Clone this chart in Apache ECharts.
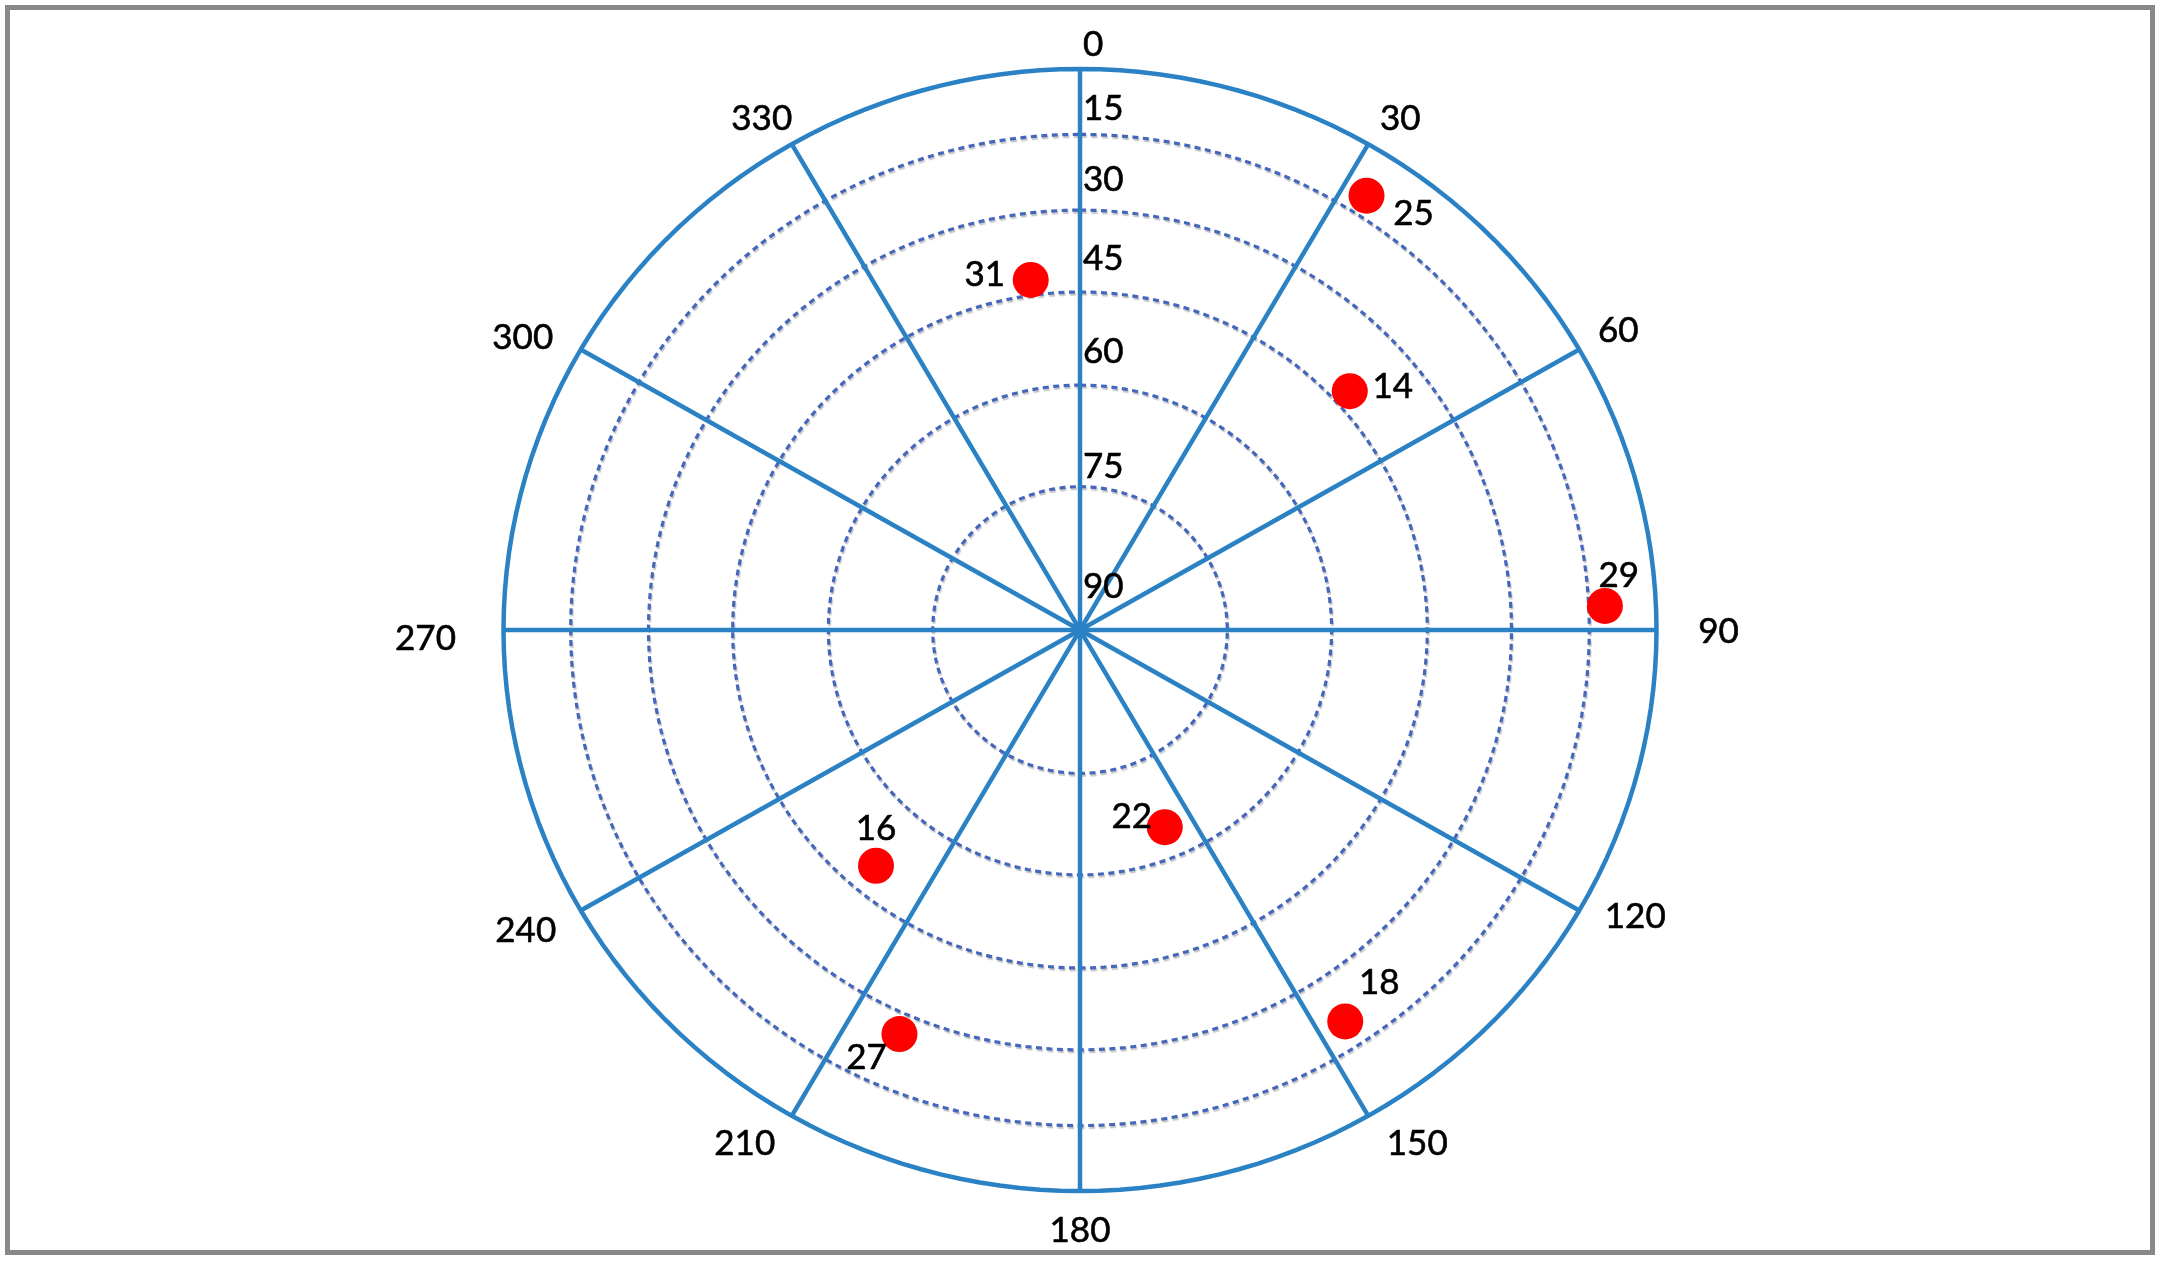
<!DOCTYPE html>
<html>
<head>
<meta charset="utf-8">
<script src="https://cdn.jsdelivr.net/npm/echarts@6/dist/echarts.min.js"></script>
<style>
html,body{margin:0;padding:0;background:#fff;}
#chart{width:2163px;height:1263px;}
</style>
</head>
<body>
<div id="chart"></div>
<script>
// ---- data ----
const PRN = ['25', '31', '14', '29', '22', '18', '16', '27'];
const AZIMUTH = [32.7, 352.2, 47.7, 87.3, 157.3, 146.6, 220.1, 203.5];
const ELEVATION = [10.3, 42.2, 41.9, 11.4, 64.6, 20.3, 49.8, 25.9];
const ANGLE_TICKS = [30, 60, 90, 120, 150, 180, 210, 240, 270, 300, 330];
const SPOKE_ANGLES = [0, 30, 60, 90, 120, 150];
const ELEV_TICKS = [0, 15, 30, 45, 60, 75, 90];
// radial scale of the plot: normalized radius of each elevation ring
const RING_RADIUS = [1, 0.8835, 0.7485, 0.6025, 0.4365, 0.2555, 0];

// ---- layout / style (kept apart from the data) ----
const CX = 1080, CY = 630, RX = 576.5, RY = 561;
const FONT = 'Lato';
const FS = 35;
const TEXT_DY = 2;
const ANGLE_LABEL_NUDGE = [[32,-27],[39,-21],[62,0],[56,4],[49,26],[0,38],[-47,26],[-55,18],[-78,7],[-58,-14],[-30,-27]];
const RING_LABEL_DY = [-26, -28, -32, -35, -35, -22, -45];
const POINT_LABEL_NUDGE = [[47,16],[-46,-7],[43,-6],[14,-32],[-33,-12],[34,-41],[0,-39],[-33,22]];

function elevToR(el) {
  for (let i = 0; i < ELEV_TICKS.length - 1; i++) {
    const a = ELEV_TICKS[i], b = ELEV_TICKS[i + 1];
    if (el >= a && el <= b) {
      const t = (el - a) / (b - a);
      return RING_RADIUS[i] + t * (RING_RADIUS[i + 1] - RING_RADIUS[i]);
    }
  }
  return 0;
}
function toXY(azDeg, r) {
  const a = azDeg * Math.PI / 180;
  return [r * Math.sin(a), r * Math.cos(a)];
}
function ringPoints(r) {
  const pts = [];
  for (let d = 0; d <= 360; d += 2) pts.push(toXY(d, r));
  return pts;
}
const textStyle = {
  color: '#000', fontFamily: FONT, fontSize: FS,
  textBorderColor: '#000', textBorderWidth: 0.6
};

const series = [];
// dotted elevation rings
for (let i = 1; i < ELEV_TICKS.length - 1; i++) {
  series.push({
    type: 'line', data: ringPoints(RING_RADIUS[i]), showSymbol: false, symbol: 'none',
    clip: false, silent: true, z: 2,
    lineStyle: { color: '#4466BB', width: 3.2, type: [6, 4.5],
      shadowColor: 'rgba(0,0,0,0.22)', shadowBlur: 1, shadowOffsetX: 1, shadowOffsetY: 2 }
  });
}
// outer circle
series.push({
  type: 'line', data: ringPoints(RING_RADIUS[0]), showSymbol: false, symbol: 'none',
  clip: false, silent: true, z: 3,
  lineStyle: { color: '#2A82C4', width: 4.5 }
});
// spokes
SPOKE_ANGLES.forEach(a => {
  series.push({
    type: 'line', data: [toXY(a, 1), toXY(a + 180, 1)], showSymbol: false, symbol: 'none',
    clip: false, silent: true, z: 4,
    lineStyle: { color: '#2A82C4', width: 4.5 }
  });
});
// angle labels
series.push({
  type: 'scatter', silent: true, z: 5, symbolSize: 1,
  itemStyle: { color: 'rgba(0,0,0,0)', opacity: 1 },
  data: ANGLE_TICKS.map((a, i) => ({
    value: toXY(a, 1), name: String(a),
    label: { offset: [ANGLE_LABEL_NUDGE[i][0], ANGLE_LABEL_NUDGE[i][1] + TEXT_DY] }
  })),
  label: Object.assign({ show: true, position: 'inside', formatter: '{b}',
    align: 'center', verticalAlign: 'middle' }, textStyle)
});
// ring (elevation) labels
series.push({
  type: 'scatter', silent: true, z: 5, symbolSize: 1,
  itemStyle: { color: 'rgba(0,0,0,0)', opacity: 1 },
  data: ELEV_TICKS.map((e, i) => ({
    value: [0, RING_RADIUS[i]], name: String(e),
    label: { offset: [3, RING_LABEL_DY[i] + TEXT_DY] }
  })),
  label: Object.assign({ show: true, position: 'inside', formatter: '{b}',
    align: 'left', verticalAlign: 'middle' }, textStyle)
});
// satellites
series.push({
  type: 'scatter', z: 10, symbol: 'circle', symbolSize: 36,
  itemStyle: { color: '#FF0000', opacity: 1 },
  data: AZIMUTH.map((az, i) => ({
    value: toXY(az, elevToR(ELEVATION[i])), name: PRN[i],
    label: { offset: [POINT_LABEL_NUDGE[i][0], POINT_LABEL_NUDGE[i][1] + TEXT_DY] }
  })),
  label: Object.assign({ show: true, position: 'inside', formatter: '{b}',
    align: 'center', verticalAlign: 'middle' }, textStyle)
});

const chart = echarts.init(document.getElementById('chart'), null, { renderer: 'canvas' });
chart.setOption({
  animation: false,
  backgroundColor: '#fff',
  grid: { left: CX - RX, top: CY - RY, width: 2 * RX, height: 2 * RY, containLabel: false },
  xAxis: { type: 'value', min: -1, max: 1, show: false },
  yAxis: { type: 'value', min: -1, max: 1, show: false },
  graphic: [{
    type: 'rect', shape: { x: 7.5, y: 7.5, width: 2145, height: 1245 },
    style: { fill: 'none', stroke: '#888888', lineWidth: 5 }, z: 100
  }],
  series: series
});
</script>
</body>
</html>
